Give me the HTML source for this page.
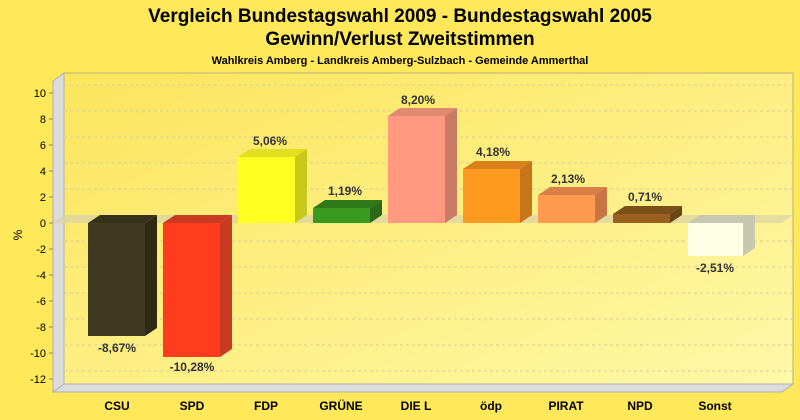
<!DOCTYPE html><html><head><style>body{margin:0}svg{display:block}text{font-family:"Liberation Sans",Arial,sans-serif}</style></head><body>
<svg width="800" height="420" xmlns="http://www.w3.org/2000/svg">
<defs><linearGradient id="bg" x1="0" y1="0" x2="1" y2="1"><stop offset="0" stop-color="#fbe55c"/><stop offset="1" stop-color="#fff8a8"/></linearGradient></defs>
<rect width="800" height="420" fill="#ffe85a"/>
<text x="400" y="22" font-size="19" font-weight="bold" text-anchor="middle">Vergleich Bundestagswahl 2009 - Bundestagswahl 2005</text>
<text x="400" y="45" font-size="19" font-weight="bold" text-anchor="middle">Gewinn/Verlust Zweitstimmen</text>
<text x="400" y="64" font-size="11" font-weight="bold" text-anchor="middle">Wahlkreis Amberg - Landkreis Amberg-Sulzbach - Gemeinde Ammerthal</text>
<rect x="64" y="73" width="729" height="311" fill="url(#bg)" stroke="#b8b07a"/>
<polygon points="53,81 64,73 64,384 53,392" fill="#dcdcdc" stroke="#b0b0b0"/>
<polygon points="53,392 64,384 793,384 782,392" fill="#dcdcdc" stroke="#b0b0b0"/>
<g stroke="#d8cf90" stroke-dasharray="3,3">
<line x1="64" y1="85" x2="793" y2="85"/><line x1="64" y1="111" x2="793" y2="111"/><line x1="64" y1="137" x2="793" y2="137"/><line x1="64" y1="163" x2="793" y2="163"/><line x1="64" y1="189" x2="793" y2="189"/><line x1="64" y1="241" x2="793" y2="241"/><line x1="64" y1="267" x2="793" y2="267"/><line x1="64" y1="293" x2="793" y2="293"/><line x1="64" y1="319" x2="793" y2="319"/><line x1="64" y1="345" x2="793" y2="345"/><line x1="64" y1="371" x2="793" y2="371"/>
</g>
<polygon points="53,223 64,215 793,215 782,223" fill="#d8d2a8" opacity="0.7"/>
<g font-size="11" text-anchor="end">
<text x="46" y="97">10</text><text x="46" y="123">8</text><text x="46" y="149">6</text><text x="46" y="175">4</text><text x="46" y="201">2</text><text x="46" y="227">0</text><text x="46" y="253">-2</text><text x="46" y="279">-4</text><text x="46" y="305">-6</text><text x="46" y="331">-8</text><text x="46" y="357">-10</text><text x="46" y="383">-12</text>
</g>
<g stroke="#888"><line x1="49" y1="93" x2="53" y2="93"/><line x1="49" y1="119" x2="53" y2="119"/><line x1="49" y1="145" x2="53" y2="145"/><line x1="49" y1="171" x2="53" y2="171"/><line x1="49" y1="197" x2="53" y2="197"/><line x1="49" y1="223" x2="53" y2="223"/><line x1="49" y1="249" x2="53" y2="249"/><line x1="49" y1="275" x2="53" y2="275"/><line x1="49" y1="301" x2="53" y2="301"/><line x1="49" y1="327" x2="53" y2="327"/><line x1="49" y1="353" x2="53" y2="353"/><line x1="49" y1="379" x2="53" y2="379"/></g>
<text x="22" y="235" font-size="12" transform="rotate(-90 22 235)" text-anchor="middle">%</text>
<polygon points="88,223 100,215 157,215 145,223" fill="#36321a"/>
<polygon points="145,223 157,215 157,328 145,336" fill="#2e2a14"/><rect x="88" y="223" width="57" height="113" fill="#403a20"/>
<polygon points="163,223 175,215 232,215 220,223" fill="#c83a22"/>
<polygon points="220,223 232,215 232,349 220,357" fill="#c83a22"/><rect x="163" y="223" width="57" height="134" fill="#ff3c1e"/>
<polygon points="238,157 250,149 307,149 295,157" fill="#e0e020"/><polygon points="295,157 307,149 307,215 295,223" fill="#c8c81a"/><rect x="238" y="157" width="57" height="66" fill="#ffff22"/>
<polygon points="313,208 325,200 382,200 370,208" fill="#2e7a1a"/><polygon points="370,208 382,200 382,215 370,223" fill="#2a6a18"/><rect x="313" y="208" width="57" height="15" fill="#3a9a20"/>
<polygon points="388,116 400,108 457,108 445,116" fill="#e08a70"/><polygon points="445,116 457,108 457,215 445,223" fill="#c87a62"/><rect x="388" y="116" width="57" height="107" fill="#ff9a80"/>
<polygon points="463,169 475,161 532,161 520,169" fill="#d8801a"/><polygon points="520,169 532,161 532,215 520,223" fill="#c87418"/><rect x="463" y="169" width="57" height="54" fill="#ff9a20"/>
<polygon points="538,195 550,187 607,187 595,195" fill="#d88048"/><polygon points="595,195 607,187 607,215 595,223" fill="#c87444"/><rect x="538" y="195" width="57" height="28" fill="#ff9a50"/>
<polygon points="613,214 625,206 682,206 670,214" fill="#7a5018"/><polygon points="670,214 682,206 682,215 670,223" fill="#6a4614"/><rect x="613" y="214" width="57" height="9" fill="#9a6020"/>
<polygon points="688,223 700,215 755,215 743,223" fill="#c8c8b0"/><polygon points="743,223 755,215 755,248 743,256" fill="#c8c8b0"/><rect x="688" y="223" width="55" height="33" fill="#ffffe6"/>
<g font-size="12" font-weight="bold" fill="#333" text-anchor="middle">
<text x="117" y="352">-8,67%</text><text x="192" y="371">-10,28%</text><text x="270" y="145">5,06%</text><text x="345" y="195">1,19%</text><text x="418" y="104">8,20%</text><text x="493" y="156">4,18%</text><text x="568" y="183">2,13%</text><text x="645" y="201">0,71%</text><text x="715" y="272">-2,51%</text>
</g>
<g font-size="12" font-weight="bold" text-anchor="middle">
<text x="117" y="410">CSU</text><text x="192" y="410">SPD</text><text x="266" y="410">FDP</text><text x="341" y="410">GRÜNE</text><text x="416" y="410">DIE L</text><text x="491" y="410">ödp</text><text x="566" y="410">PIRAT</text><text x="640" y="410">NPD</text><text x="715" y="410">Sonst</text>
</g>
</svg></body></html>
